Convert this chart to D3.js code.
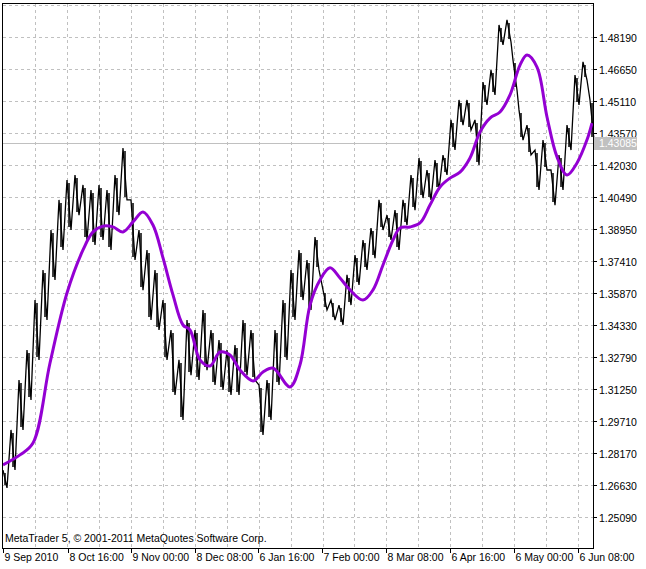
<!DOCTYPE html>
<html><head><meta charset="utf-8">
<script src="https://cdn.jsdelivr.net/npm/d3@7"></script>
<style>body{margin:0;background:#fff}text{font-family:"Liberation Sans",Arial,sans-serif;font-size:10.5px}</style>
</head><body><div id="chart"></div>
<script>
// bar offsets (chart index), highs and lows
const barX = [0,8,16,24,32,40,48,56,64,72,80,88,96,104,112,120,128,136,144,152,160,168,176,184,192,200,208,216,224,232,240,248,256,264,272,280,288,296,304,312,320,328,336,344,352,360,368,376,384,392,400,408,416,424,432,440,448,456,464,472,480,488,496,504,510,516,524,532,540,548,556,564,572,580,587]
const highs = [1.2735,1.2928,1.3168,1.3313,1.3553,1.3698,1.3890,1.4035,1.4131,1.4155,1.4107,1.4083,1.4107,1.4083,1.4155,1.4285,1.4035,1.3890,1.3794,1.3698,1.3553,1.3409,1.3265,1.3457,1.3409,1.3505,1.3409,1.3361,1.3313,1.3337,1.3457,1.3409,1.3144,1.3168,1.3409,1.3553,1.3698,1.3794,1.3746,1.3856,1.3602,1.3553,1.3529,1.3674,1.3770,1.3842,1.3900,1.4035,1.3962,1.3986,1.4035,1.4155,1.4237,1.4179,1.4227,1.4251,1.4420,1.4516,1.4516,1.4420,1.4602,1.4660,1.4877,1.4901,1.4708,1.4468,1.4395,1.4275,1.4323,1.4179,1.4251,1.4395,1.4636,1.4699,1.4516]
const lows = [1.2649,1.2735,1.2928,1.3072,1.3265,1.3457,1.3650,1.3794,1.3890,1.3962,1.3842,1.3818,1.3842,1.3794,1.3962,1.4035,1.3746,1.3601,1.3457,1.3409,1.3265,1.3096,1.2976,1.3192,1.3168,1.3216,1.3144,1.3120,1.3096,1.3096,1.3192,1.3168,1.2904,1.2976,1.3144,1.3265,1.3457,1.3553,1.3505,1.3698,1.3505,1.3457,1.3433,1.3529,1.3626,1.3698,1.3755,1.3890,1.3842,1.3794,1.3914,1.3986,1.4044,1.4035,1.4083,1.4155,1.4275,1.4395,1.4371,1.4203,1.4492,1.4540,1.4781,1.4795,1.4564,1.4323,1.4251,1.4083,1.4179,1.4010,1.4083,1.4275,1.4492,1.4612,1.4323]
// smoothed average
const maX = [0,17,30,47,64,80,90,100,110,120,130,140,150,160,170,180,187,197,207,217,227,237,250,260,270,287,297,307,317,327,337,347,360,370,380,390,397,407,417,427,437,447,457,467,477,487,497,507,517,524,534,544,554,564,574,584,589]
const maY = [1.2760,1.2808,1.2865,1.3250,1.3587,1.3794,1.3881,1.3909,1.3905,1.3881,1.3929,1.3977,1.3914,1.3756,1.3578,1.3433,1.3409,1.3265,1.3236,1.3303,1.3289,1.3216,1.3164,1.3207,1.3226,1.3135,1.3241,1.3529,1.3650,1.3708,1.3659,1.3602,1.3553,1.3602,1.3722,1.3842,1.3900,1.3905,1.3924,1.4010,1.4097,1.4140,1.4169,1.4237,1.4362,1.4429,1.4458,1.4540,1.4684,1.4732,1.4674,1.4434,1.4242,1.4155,1.4213,1.4324,1.4405]
const priceTicks = [1.25090,1.26630,1.28170,1.29710,1.31250,1.32790,1.34330,1.35870,1.37410,1.38950,1.40490,1.42030,1.43570,1.45110,1.46650,1.48190]
const dateLabels = ["9 Sep 2010","8 Oct 16:00","9 Nov 00:00","8 Dec 08:00","6 Jan 16:00","7 Feb 00:00","8 Mar 08:00","6 Apr 16:00","6 May 00:00","6 Jun 08:00"]
const dateAt = [0,65,128,192,255,319,383,447,511,575]
const lastPrice = 1.43085

const W = 646, H = 569, L = 3, R = 593, T = 4, B = 548
const svg = d3.select("#chart").append("svg").attr("width", W).attr("height", H)
const x = d3.scaleLinear().domain([0, 590]).range([L, R])
const y = d3.scaleLinear().domain([1.2509, 1.4819]).range([517, 37])

// grid
const grid = svg.append("g").attr("stroke", "#c0c0c0").attr("stroke-dasharray", "3,3").attr("shape-rendering", "crispEdges")
d3.range(1.2355, 1.50, 0.0154).forEach(p => {
  const yy = Math.round(y(p)) + 0.5
  if (yy > T && yy < B) grid.append("line").attr("x1", L).attr("x2", R).attr("y1", yy).attr("y2", yy)
})
d3.range(1, 19).forEach(k => {
  const xx = Math.round(x(k * 31.95)) + 0.5
  if (xx < R) grid.append("line").attr("x1", xx).attr("x2", xx).attr("y1", T).attr("y2", B)
})

// last price line
svg.append("line").attr("x1", L).attr("x2", R).attr("y1", Math.round(y(lastPrice)) + 0.5).attr("y2", Math.round(y(lastPrice)) + 0.5)
  .attr("stroke", "#c0c0c0").attr("shape-rendering", "crispEdges")

// price bars: zigzag between high and low of each bar, plus the bar ranges
const zig = []
barX.forEach((b, i) => { zig.push([b, highs[i]]); zig.push([b + 4, lows[i]]) })
svg.append("path").datum(zig)
  .attr("d", d3.line().x(d => x(d[0])).y(d => y(d[1])))
  .attr("fill", "none").attr("stroke", "#000").attr("stroke-width", 1.3)
svg.append("g").selectAll("line").data(barX).enter().append("line")
  .attr("x1", d => x(d) + 2).attr("x2", d => x(d) + 2)
  .attr("y1", (d, i) => y(highs[i]) + 3).attr("y2", (d, i) => y(lows[i]) - 3)
  .attr("stroke", "#000").attr("stroke-width", 1.5)

// moving average
svg.append("path").datum(maX.map((m, i) => [m, maY[i]]))
  .attr("d", d3.line().x(d => x(d[0])).y(d => y(d[1])).curve(d3.curveCatmullRom))
  .attr("fill", "none").attr("stroke", "#9400d3").attr("stroke-width", 3)

// frame
svg.append("rect").attr("x", L - 0.5).attr("y", T - 0.5).attr("width", R - L + 1).attr("height", B - T + 1)
  .attr("fill", "none").attr("stroke", "#000").attr("shape-rendering", "crispEdges")

// price axis
priceTicks.forEach(p => {
  const yy = Math.round(y(p)) + 0.5
  svg.append("line").attr("x1", R).attr("x2", R + 4).attr("y1", yy).attr("y2", yy).attr("stroke", "#000")
  svg.append("text").attr("x", R + 6).attr("y", yy + 4).text(p.toFixed(5))
})
const ly = Math.round(y(lastPrice))
svg.append("rect").attr("x", R + 1).attr("y", ly - 6).attr("width", 43).attr("height", 13).attr("fill", "#c0c0c0")
svg.append("text").attr("x", R + 6).attr("y", ly + 4).attr("fill", "#fff").text(lastPrice.toFixed(5))

// time axis
dateLabels.forEach((t, i) => {
  const xx = Math.round(x(dateAt[i])) + 0.5
  svg.append("line").attr("x1", xx).attr("x2", xx).attr("y1", B).attr("y2", B + 5).attr("stroke", "#000")
  svg.append("text").attr("x", xx + 1).attr("y", B + 13).text(t)
})
svg.append("text").attr("x", L + 2).attr("y", B - 6).text("MetaTrader 5, © 2001-2011 MetaQuotes Software Corp.")
</script></body></html>
